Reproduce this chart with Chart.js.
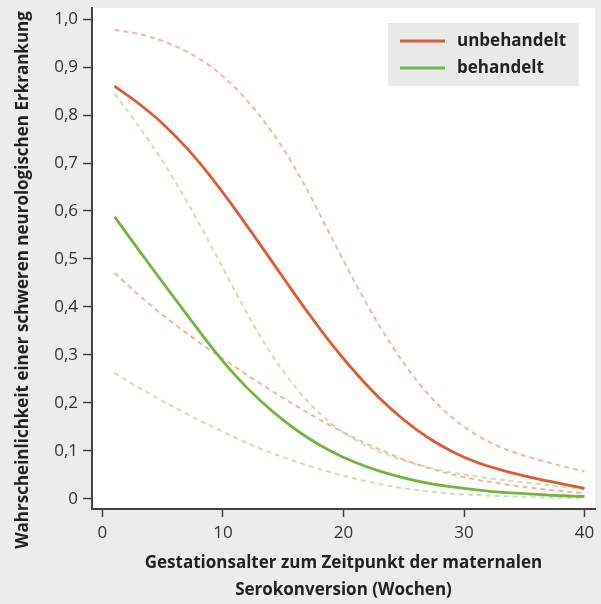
<!DOCTYPE html>
<html>
<head>
<meta charset="utf-8">
<script src="https://cdn.jsdelivr.net/npm/chart.js@4.4.1/dist/chart.umd.min.js"></script>
<style>
  html, body { margin: 0; padding: 0; background: #ebeceb; }
</style>
</head>
<body>
<canvas id="riskChart" width="601" height="604"></canvas>
<script>
// Gestationsalter (Wochen)
const weeks = [1, 3, 5, 7, 9, 11, 13, 15, 17, 19, 21, 23, 25, 27, 29, 31, 33, 35, 37, 39, 40];

// unbehandelt: Schätzung + Konfidenzgrenzen
const untreated      = [0.860, 0.824, 0.782, 0.731, 0.671, 0.604, 0.533, 0.461, 0.390, 0.323, 0.263, 0.210, 0.165, 0.128, 0.099, 0.077, 0.061, 0.048, 0.037, 0.027, 0.022];
const untreatedUpper = [0.977, 0.969, 0.954, 0.932, 0.901, 0.857, 0.800, 0.730, 0.643, 0.545, 0.449, 0.360, 0.283, 0.219, 0.170, 0.134, 0.108, 0.090, 0.076, 0.063, 0.057];
const untreatedLower = [0.471, 0.425, 0.383, 0.345, 0.309, 0.275, 0.242, 0.210, 0.180, 0.152, 0.126, 0.103, 0.082, 0.065, 0.051, 0.040, 0.032, 0.025, 0.019, 0.014, 0.012];

// behandelt
const treated      = [0.588, 0.519, 0.451, 0.384, 0.318, 0.258, 0.207, 0.164, 0.128, 0.099, 0.076, 0.058, 0.044, 0.033, 0.025, 0.019, 0.014, 0.011, 0.008, 0.006, 0.005];
const treatedUpper = [0.844, 0.777, 0.703, 0.620, 0.528, 0.433, 0.343, 0.266, 0.204, 0.157, 0.123, 0.098, 0.080, 0.066, 0.055, 0.047, 0.040, 0.034, 0.029, 0.023, 0.020];
const treatedLower = [0.263, 0.232, 0.204, 0.177, 0.152, 0.128, 0.106, 0.087, 0.070, 0.055, 0.042, 0.031, 0.022, 0.016, 0.011, 0.008, 0.006, 0.004, 0.003, 0.002, 0.002];

const xTicks = [0, 10, 20, 30, 40];
const yTicks = [0, 0.1, 0.2, 0.3, 0.4, 0.5, 0.6, 0.7, 0.8, 0.9, 1.0];
const yTickLabels = ['0', '0,1', '0,2', '0,3', '0,4', '0,5', '0,6', '0,7', '0,8', '0,9', '1,0'];

const RED = '#de5b34';
const RED_LIGHT = '#f4b59b';
const GREEN = '#72b641';
const GREEN_LIGHT = '#c9e3ad';
const FONT = "'Open Sans'";

const toPoints = arr => weeks.map((w, i) => ({ x: w, y: arr[i] }));

const line = (label, arr, color, dashed) => ({
    label: label,
    data: toPoints(arr),
    borderColor: color,
    borderWidth: dashed ? 2 : 2.8,
    borderDash: dashed ? [5, 4] : [],
    pointRadius: 0,
    fill: false,
    cubicInterpolationMode: 'monotone'
});

// white plot area on grey page
const plotBackground = {
    id: 'plotBackground',
    beforeDraw(chart) {
        const { ctx, chartArea: a } = chart;
        ctx.save();
        ctx.fillStyle = '#ebeceb';
        ctx.fillRect(0, 0, chart.width, chart.height);
        ctx.fillStyle = '#ffffff';
        ctx.fillRect(a.left, a.top, a.right - a.left, a.bottom - a.top);
        ctx.restore();
    }
};

// y axis title and the legend box
const extras = {
    id: 'extras',
    afterDraw(chart) {
        const ctx = chart.ctx;
        ctx.save();
        ctx.translate(23, 280);
        ctx.rotate(-Math.PI / 2);
        ctx.fillStyle = '#222';
        ctx.font = 'bold 17px ' + FONT;
        ctx.textAlign = 'center';
        ctx.textBaseline = 'middle';
        ctx.fillText('Wahrscheinlichkeit einer schweren neurologischen Erkrankung', 0, 0);
        ctx.restore();

        ctx.save();
        ctx.fillStyle = '#e9eaea';
        ctx.fillRect(388, 23, 191, 63);
        const items = chart.data.datasets.filter(d => d.borderDash.length === 0);
        items.forEach((d, i) => {
            const y = 41 + i * 27;
            ctx.strokeStyle = d.borderColor;
            ctx.lineWidth = 2.8;
            ctx.beginPath();
            ctx.moveTo(400, y);
            ctx.lineTo(445, y);
            ctx.stroke();
            ctx.fillStyle = '#222';
            ctx.font = 'bold 17px ' + FONT;
            ctx.textAlign = 'left';
            ctx.textBaseline = 'middle';
            ctx.fillText(d.label, 457, y);
        });
        ctx.restore();
    }
};

new Chart(document.getElementById('riskChart'), {
    type: 'line',
    data: {
        datasets: [
            line('unbehandelt', untreated, RED, false),
            line('behandelt', treated, GREEN, false),
            line('unbehandelt obere Grenze', untreatedUpper, RED_LIGHT, true),
            line('unbehandelt untere Grenze', untreatedLower, RED_LIGHT, true),
            line('behandelt obere Grenze', treatedUpper, GREEN_LIGHT, true),
            line('behandelt untere Grenze', treatedLower, GREEN_LIGHT, true)
        ]
    },
    options: {
        responsive: false,
        animation: false,
        devicePixelRatio: 1,
        layout: { autoPadding: false, padding: { left: 0, right: 6, top: 8, bottom: 0 } },
        plugins: { legend: { display: false }, tooltip: { enabled: false } },
        scales: {
            x: {
                type: 'linear',
                min: -0.87,
                max: 40.87,
                afterBuildTicks: s => { s.ticks = xTicks.map(v => ({ value: v })); },
                afterFit: s => { s.height = 95; s.paddingLeft = 0; s.paddingRight = 0; },
                ticks: { font: { family: FONT, size: 17 }, color: '#333', padding: 6, maxRotation: 0, autoSkip: false },
                grid: { display: true, drawOnChartArea: false, drawTicks: true, tickLength: 8, tickColor: '#444', tickWidth: 1.5 },
                border: { display: true, color: '#444', width: 2 },
                title: {
                    display: true,
                    text: ['Gestationsalter zum Zeitpunkt der maternalen', 'Serokonversion (Wochen)'],
                    color: '#222',
                    font: { family: FONT, size: 17, weight: 'bold', lineHeight: 1.6 },
                    padding: { top: 0, bottom: 0 }
                }
            },
            y: {
                min: -0.021,
                max: 1.023,
                afterBuildTicks: s => { s.ticks = yTicks.map(v => ({ value: v })); },
                afterFit: s => { s.width = 92; s.paddingTop = 0; s.paddingBottom = 0; },
                ticks: {
                    font: { family: FONT, size: 17 },
                    color: '#333',
                    padding: 5,
                    autoSkip: false,
                    callback: (v, i) => yTickLabels[i]
                },
                grid: { display: true, drawOnChartArea: false, drawTicks: true, tickLength: 9, tickColor: '#444', tickWidth: 1.5 },
                border: { display: true, color: '#444', width: 2 }
            }
        }
    },
    plugins: [plotBackground, extras]
});
</script>
</body>
</html>
